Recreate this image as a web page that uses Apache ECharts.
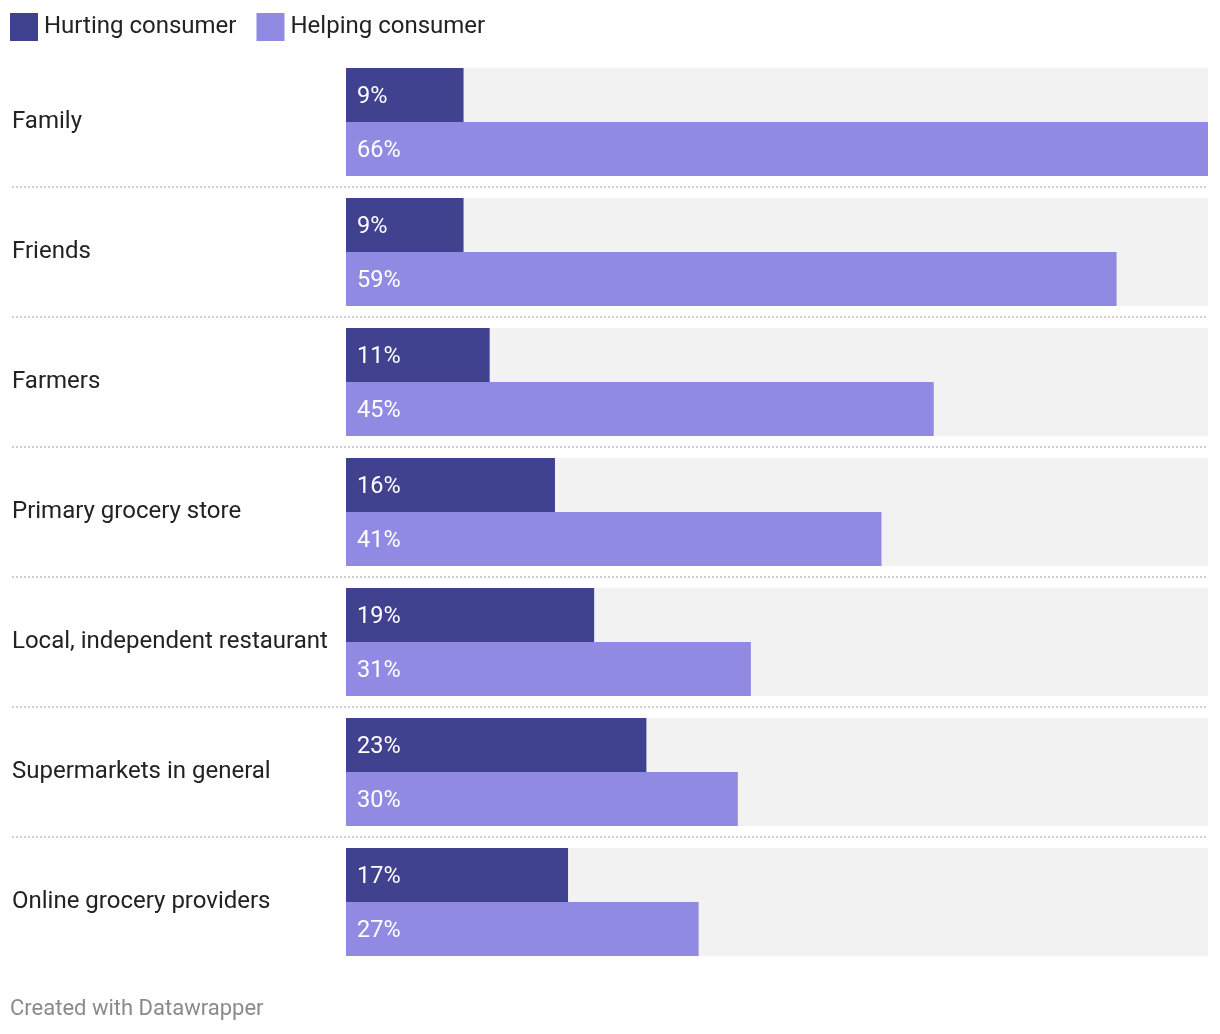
<!DOCTYPE html>
<html><head><meta charset="utf-8">
<script src="https://cdn.jsdelivr.net/npm/echarts@6/dist/echarts.min.js"></script>
<style>html,body{margin:0;padding:0;background:#fff}#c{width:1220px;height:1034px}</style>
</head><body><div id="c"></div>
<script>
const categories = ["Family","Friends","Farmers","Primary grocery store","Local, independent restaurant","Supermarkets in general","Online grocery providers"];
const hurting = [9,9,11,16,19,23,17];
const helping = [66,59,45,41,31,30,27];
const seriesNames = ["Hurting consumer","Helping consumer"];
const separatorSlots = ["a","b","c","d","e"];

const chart = echarts.init(document.getElementById('c'));
const font = 'Roboto, "Noto Sans", sans-serif';
const lbl = {show:true, position:'insideLeft', distance:11, offset:[0,2], color:'#fff', fontSize:23.5, fontFamily:font, formatter: p => p.value + '%'};
chart.setOption({
  animation:false,
  textStyle:{fontFamily:font},
  legend:{left:10, top:13, padding:0, itemWidth:28, itemHeight:28, itemGap:20, icon:'rect',
    textStyle:{fontSize:24, color:'#222', fontFamily:font, padding:[4,0,0,1]}, data:seriesNames},
  graphic:[{type:'text', left:10, top:998, style:{text:'Created with Datawrapper', fill:'#8a8a8a', fontSize:22, fontFamily:font}}],
  grid:[
    {left:346, right:12, top:57, height:910, containLabel:false},
    {left:12, right:12, top:187, height:650, containLabel:false}
  ],
  xAxis:[
    {type:'value', min:0, max:66, show:false, gridIndex:0},
    {type:'value', min:0, max:1, show:false, gridIndex:1}
  ],
  yAxis:[
    {type:'category', data:categories, inverse:true, gridIndex:0,
     axisLine:{show:false}, axisTick:{show:false}, splitLine:{show:false},
     axisLabel:{align:'left', margin:334, fontSize:24, color:'#222', fontFamily:font, padding:[8,0,0,0]}},
    {type:'category', data:separatorSlots, gridIndex:1, show:true,
     axisLine:{show:false}, axisTick:{show:false}, axisLabel:{show:false},
     splitLine:{show:true, lineStyle:{color:'#cfcfcf', width:2, type:[2,2]}}}
  ],
  series:[
    {name:seriesNames[0], type:'bar', data:hurting, barWidth:54, barGap:'0%',
     itemStyle:{color:'#40418f'}, showBackground:true, backgroundStyle:{color:'#f2f2f2'}, label:lbl},
    {name:seriesNames[1], type:'bar', data:helping, barWidth:54, barGap:'0%',
     itemStyle:{color:'#908ae3'}, showBackground:true, backgroundStyle:{color:'#f2f2f2'}, label:lbl}
  ]
});
</script></body></html>
